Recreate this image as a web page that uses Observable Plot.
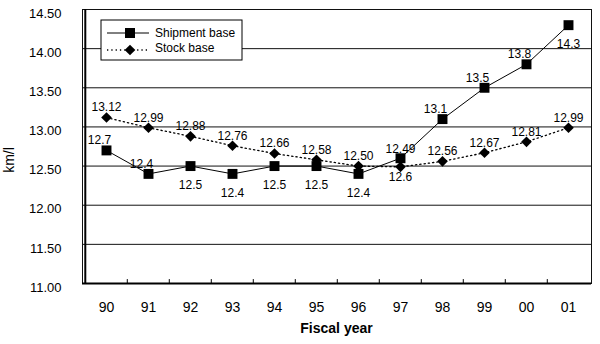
<!DOCTYPE html>
<html><head><meta charset="utf-8">
<script src="https://cdn.jsdelivr.net/npm/d3@7"></script>
<script src="https://cdn.jsdelivr.net/npm/@observablehq/plot@0.6"></script>
<style>body{margin:0;background:#fff}</style>
</head><body><div id="chart"></div>
<script>
const years = ["90","91","92","93","94","95","96","97","98","99","00","01"];
const shipment = [12.7,12.4,12.5,12.4,12.5,12.5,12.4,12.6,13.1,13.5,13.8,14.3];
const stock = [13.12,12.99,12.88,12.76,12.66,12.58,12.50,12.49,12.56,12.67,12.81,12.99];
const shipLabelSide = ["up","up","down","down","down","down","down","down","up","up","up","down"];
const stockLabelSide = ["up","up","up","up","up","up","up","high","up","up","up","up"];
const yTicks = [11,11.5,12,12.5,13,13.5,14,14.5];
const seriesNames = ["Shipment base","Stock base"];

const rows = years.map((y,i)=>({year:y, ship:shipment[i], stock:stock[i], sSide:shipLabelSide[i], kSide:stockLabelSide[i]}));
const W=600,H=344,ML=82,MR=9,MT=9,MB=61;
const bw=(W-ML-MR)/years.length;
const font="Liberation Sans, Arial, sans-serif";

const plot = Plot.plot({
  width:W,height:H,marginLeft:ML,marginRight:MR,marginTop:MT,marginBottom:MB,
  style:{fontFamily:font,background:"white",color:"black"},
  x:{type:"band",domain:years,padding:0},
  y:{domain:[11,14.5]},
  marks:[
    Plot.ruleY(yTicks,{stroke:"#111",strokeWidth:1}),
    Plot.frame({stroke:"#111"}),
    Plot.ruleX([years[0]],{dx:-bw/2,stroke:"black",strokeWidth:2}),
    Plot.ruleY([11],{stroke:"black",strokeWidth:2}),
    Plot.ruleX(years.slice(1),{dx:-bw/2,y1:11,y2:11.05,stroke:"black"}),
    Plot.axisX({tickSize:0,tickPadding:19,fontSize:14,label:null}),
    Plot.axisY({ticks:yTicks,tickFormat:d3.format(".2f"),tickSize:0,tickPadding:21,dy:4,fontSize:13,label:null}),
    Plot.line(rows,{x:"year",y:"stock",stroke:"black",strokeWidth:1.3,strokeDasharray:"1.3,3"}),
    Plot.line(rows,{x:"year",y:"ship",stroke:"black",strokeWidth:1}),
    Plot.dot(rows,{x:"year",y:"stock",symbol:"diamond2",r:4.8,fill:"black",stroke:"none"}),
    Plot.dot(rows,{x:"year",y:"ship",symbol:"square",r:5.6,fill:"black",stroke:"none"}),
    Plot.text(rows.filter(d=>d.kSide==="up"),{x:"year",y:"stock",text:d=>d3.format(".2f")(d.stock),dy:-10,fontSize:12,fill:"black"}),
    Plot.text(rows.filter(d=>d.kSide==="high"),{x:"year",y:"stock",text:d=>d3.format(".2f")(d.stock),dy:-18,fontSize:12,fill:"black"}),
    Plot.text(rows.filter(d=>d.sSide==="up"),{x:"year",y:"ship",text:d=>String(d.ship),dy:-10,dx:-7,fontSize:12,fill:"black"}),
    Plot.text(rows.filter(d=>d.sSide==="down"),{x:"year",y:"ship",text:d=>String(d.ship),dy:19,fontSize:12,fill:"black"})
  ]
});
document.getElementById("chart").appendChild(plot);

const svg=d3.select(plot);
svg.append("text").attr("transform","translate(14,160) rotate(-90)").attr("text-anchor","middle")
  .attr("font-size",14).attr("font-family",font).attr("fill","black").text("km/l");
svg.append("text").attr("x",(ML+W-MR)/2).attr("y",333).attr("text-anchor","middle")
  .attr("font-size",14).attr("font-weight","bold").attr("font-family",font).attr("fill","black").text("Fiscal year");
// legend
const lg=svg.append("g");
lg.append("rect").attr("x",101).attr("y",20).attr("width",141).attr("height",40).attr("fill","white").attr("stroke","black");
lg.append("line").attr("x1",107).attr("x2",149).attr("y1",33).attr("y2",33).attr("stroke","black");
lg.append("rect").attr("x",125).attr("y",28).attr("width",10).attr("height",10).attr("fill","black");
lg.append("line").attr("x1",107).attr("x2",149).attr("y1",50).attr("y2",50).attr("stroke","black").attr("stroke-width",1.3).attr("stroke-dasharray","1.3,3");
lg.append("path").attr("d",d3.symbol(d3.symbolDiamond2,4.8*4.8*Math.PI)()).attr("transform","translate(130,50)").attr("fill","black");
lg.append("text").attr("x",155).attr("y",33).attr("dy","0.35em").attr("text-anchor","start").attr("font-size",12).attr("font-family",font).attr("fill","black").text(seriesNames[0]);
lg.append("text").attr("x",155).attr("y",48).attr("dy","0.35em").attr("text-anchor","start").attr("font-size",12).attr("font-family",font).attr("fill","black").text(seriesNames[1]);
</script></body></html>
